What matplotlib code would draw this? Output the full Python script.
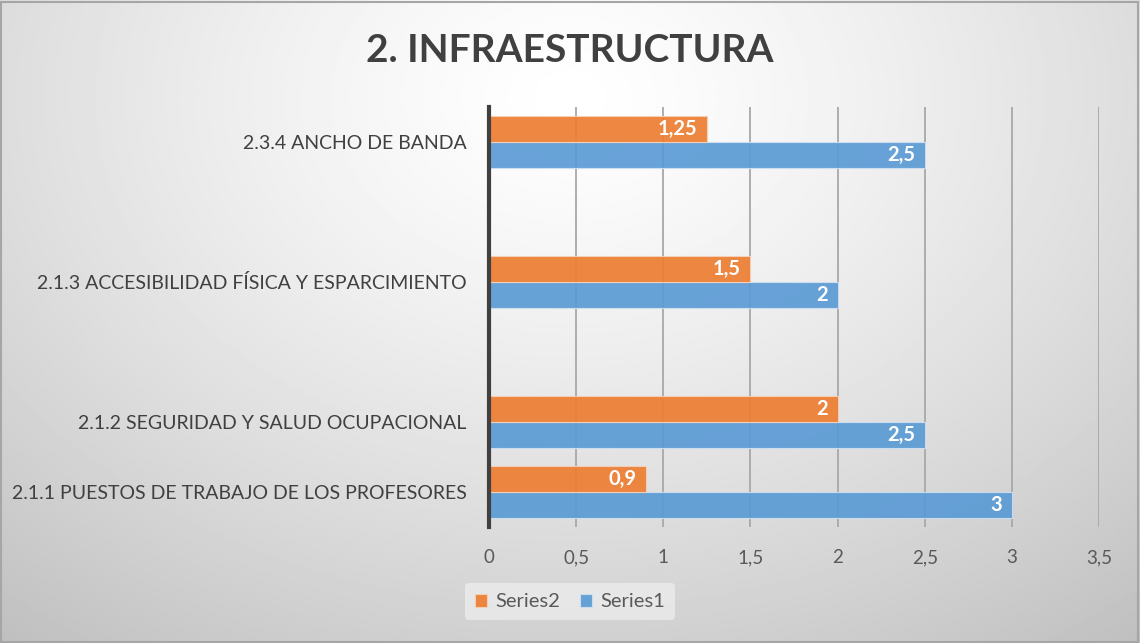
import numpy as np
import matplotlib
matplotlib.use("Agg")
import matplotlib.pyplot as plt
from matplotlib.patches import Rectangle

plt.rcParams['font.family'] = ['Lato', 'DejaVu Sans']

# datos (de abajo hacia arriba, con las filas vacias del excel)
categorias = ['2.1.1 PUESTOS DE TRABAJO DE LOS PROFESORES',
              '2.1.2 SEGURIDAD Y SALUD OCUPACIONAL',
              '',
              '2.1.3 ACCESIBILIDAD FÍSICA Y ESPARCIMIENTO',
              '',
              '2.3.4 ANCHO DE BANDA']
series1 = [3, 2.5, np.nan, 2, np.nan, 2.5]
series2 = [0.9, 2, np.nan, 1.5, np.nan, 1.25]
xticks = [0, 0.5, 1, 1.5, 2, 2.5, 3, 3.5]

azul = '#5B9BD5'
naranja = '#ED7D31'
gris = '#595959'

fig = plt.figure(figsize=(11.4, 6.43), dpi=100)

# fondo con degradado radial
bg = fig.add_axes([0, 0, 1, 1], zorder=-10)
yy, xx = np.mgrid[0:1:300j, 0:1:500j]
r = np.sqrt(((xx - 0.5) / 0.75) ** 2 + ((yy - 0.15) / 1.0) ** 2)
r = np.clip(r / r.max(), 0, 1)
bg.imshow(1 - 0.25 * r ** 1.3, cmap='gray', vmin=0, vmax=1, aspect='auto',
          extent=[0, 1, 1, 0])
bg.set_xlim(0, 1)
bg.set_ylim(1, 0)
bg.axis('off')
bg.add_patch(Rectangle((0.001, 0.002), 0.997, 0.995, fill=False,
                       edgecolor='#a6a6a6', lw=1.5, transform=bg.transAxes))

ax = fig.add_axes([0.429, 0.180, 0.535, 0.654])
ax.patch.set_alpha(0)

y = np.arange(len(categorias))
h = 0.37
b1 = ax.barh(y - h / 2, series1, height=h, color=azul, edgecolor='#cfe0f0',
             linewidth=0.8, label='Series1', zorder=3, alpha=0.92)
b2 = ax.barh(y + h / 2, series2, height=h, color=naranja, edgecolor='#f6d2b8',
             linewidth=0.8, label='Series2', zorder=3, alpha=0.92)

for barras in (b1, b2):
    for rect in barras:
        w = rect.get_width()
        if np.isnan(w):
            continue
        txt = f'{w:g}'.replace('.', ',')
        ax.annotate(txt, (w, rect.get_y() + rect.get_height() / 2),
                    xytext=(-7, 0), textcoords='offset points',
                    ha='right', va='center', color='white',
                    fontsize=14.5, fontweight='bold', zorder=4)

ax.set_xlim(0, 3.5)
ax.set_ylim(-0.5, len(categorias) - 0.5)
ax.set_xticks(xticks)
ax.set_xticklabels([f'{t:g}'.replace('.', ',') for t in xticks])
ax.set_yticks(y)
ax.set_yticklabels(categorias)
ax.tick_params(axis='x', length=0, pad=16, labelsize=13.5, labelcolor=gris)
ax.tick_params(axis='y', length=0, pad=16, labelsize=14, labelcolor='#404040')
ax.grid(axis='x', color='#a8a8a8', linewidth=1.3, zorder=1)
ax.grid(axis='y', visible=False)
for s in ['top', 'right', 'bottom']:
    ax.spines[s].set_visible(False)
ax.spines['left'].set_color('#404040')
ax.spines['left'].set_linewidth(3)
ax.spines['left'].set_zorder(5)

fig.text(0.5, 0.922, '2. INFRAESTRUCTURA', ha='center', va='center',
         fontsize=28, fontweight='bold', color='#404040')

handles, labels = ax.get_legend_handles_labels()
leg = fig.legend(handles[::-1], labels[::-1], loc='center',
                 bbox_to_anchor=(0.5, 0.064), ncol=2, frameon=True,
                 fontsize=14.5, handlelength=0.6, handleheight=0.6,
                 handletextpad=0.4, columnspacing=1.0, borderpad=0.5)
leg.get_frame().set_facecolor('#ececec')
leg.get_frame().set_edgecolor('none')
leg.get_frame().set_alpha(0.8)
for t in leg.get_texts():
    t.set_color(gris)

fig.savefig('out.png', dpi=100)
